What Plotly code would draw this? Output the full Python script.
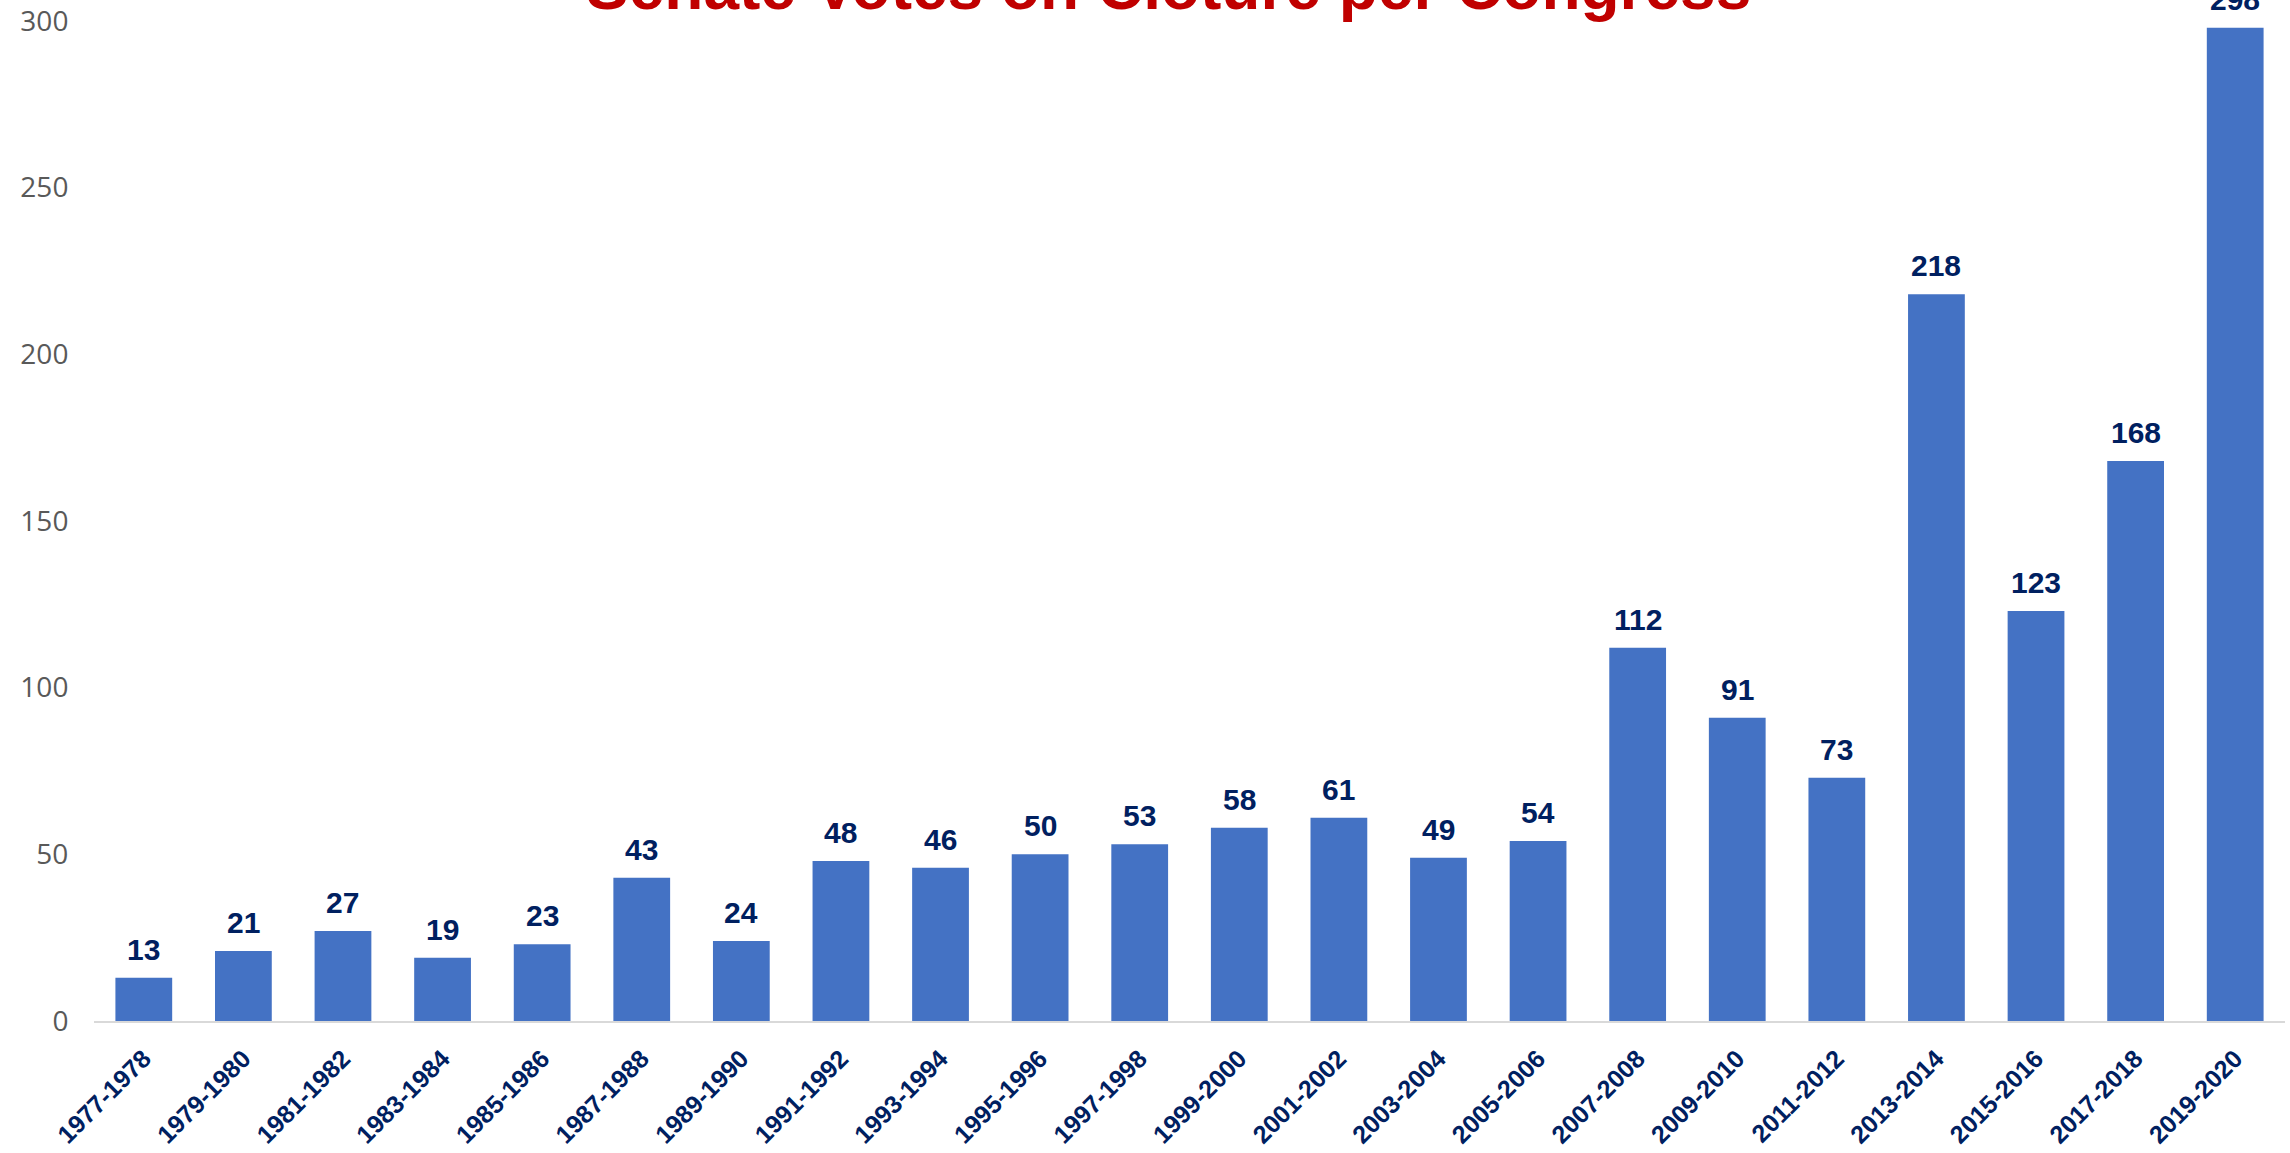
import plotly.graph_objects as go

congresses = ["1977-1978", "1979-1980", "1981-1982", "1983-1984", "1985-1986",
              "1987-1988", "1989-1990", "1991-1992", "1993-1994", "1995-1996",
              "1997-1998", "1999-2000", "2001-2002", "2003-2004", "2005-2006",
              "2007-2008", "2009-2010", "2011-2012", "2013-2014", "2015-2016",
              "2017-2018", "2019-2020"]
cloture_votes = [13, 21, 27, 19, 23, 43, 24, 48, 46, 50, 53, 58, 61, 49, 54,
                 112, 91, 73, 218, 123, 168, 298]
y_ticks = [0, 50, 100, 150, 200, 250, 300]
title_text = "Senate Votes on Cloture per Congress"

NAVY = "#002060"
BLUE = "#4472C4"
ARIAL = "Arial, Liberation Sans, sans-serif"

fig = go.Figure()
fig.add_trace(go.Bar(
    x=congresses, y=cloture_votes,
    marker=dict(color=BLUE, line=dict(width=0)),
    hoverinfo="x+y",
))

annotations = []
for c, v in zip(congresses, cloture_votes):
    annotations.append(dict(
        x=c, y=v, xref="x", yref="y", text=str(v), showarrow=False,
        yanchor="bottom", yshift=10,
        font=dict(family=ARIAL, size=30, color=NAVY, weight="bold"),
    ))
annotations.append(dict(
    x=0.4903, y=0.996, xref="paper", yref="paper", text=title_text,
    showarrow=False, xanchor="center", yanchor="bottom",
    font=dict(family=ARIAL, size=64, color="#C00000", weight="bold"),
))

fig.update_layout(
    width=2290, height=1153,
    margin=dict(l=94, r=5, t=21, b=132),
    paper_bgcolor="white", plot_bgcolor="white",
    bargap=0.43,
    showlegend=False,
    annotations=annotations,
    xaxis=dict(
        type="category", tickangle=-45, automargin=False,
        tickfont=dict(family=ARIAL, size=25, color=NAVY, weight="bold"),
        showline=True, linecolor="#d9d9d9", linewidth=2,
        showgrid=False, zeroline=False,
        ticks="outside", ticklen=11, tickcolor="rgba(0,0,0,0)",
    ),
    yaxis=dict(
        range=[0, 300], tickvals=y_ticks, automargin=False,
        tickfont=dict(family="Segoe UI, Open Sans, sans-serif", size=28, color="#595959"),
        showgrid=False, zeroline=False, showline=False,
        ticks="outside", ticklen=19, tickcolor="rgba(0,0,0,0)",
    ),
)
fig.write_html("out.html", config={"displayModeBar": False},
               post_script="document.body.style.margin='0';")
